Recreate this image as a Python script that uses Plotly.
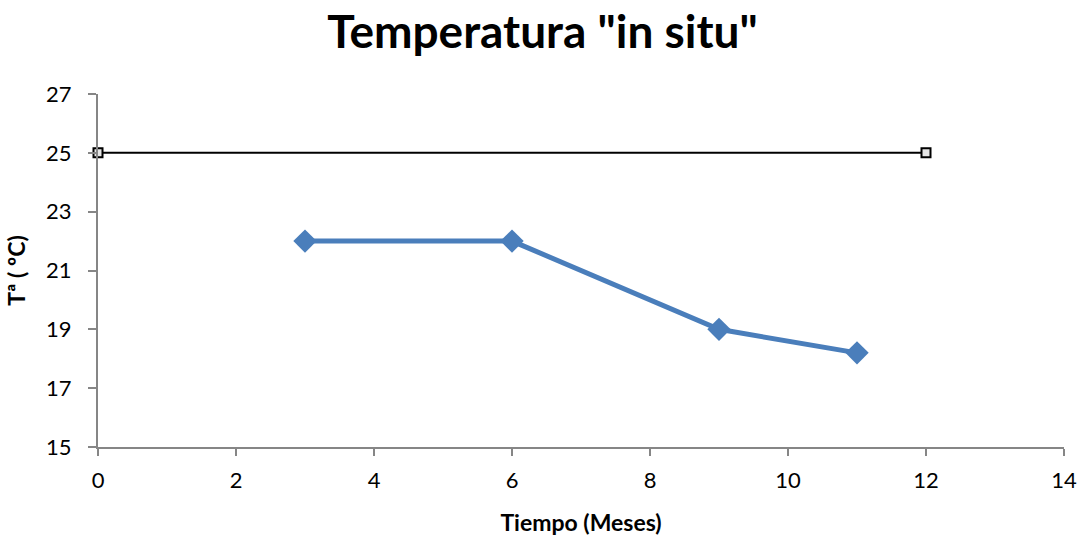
import plotly.graph_objects as go

ref_x = [0, 12]
ref_y = [25, 25]
meses = [3, 6, 9, 11]
temp = [22, 22, 19, 18.2]

title = 'Temperatura "in situ"'
x_title = "Tiempo (Meses)"
y_title = "Tª ( ºC)"

font = "Lato, 'Open Sans', sans-serif"

fig = go.Figure()
fig.add_trace(go.Scatter(
    x=ref_x, y=ref_y, mode="lines+markers",
    line=dict(color="black", width=2),
    marker=dict(symbol="square", size=9, color="#e6e6e6",
                line=dict(color="black", width=2)),
    showlegend=False, cliponaxis=False))
fig.add_trace(go.Scatter(
    x=meses, y=temp, mode="lines+markers",
    line=dict(color="#4a7ebb", width=5),
    marker=dict(symbol="diamond", size=18, color="#4a7ebb"),
    showlegend=False, cliponaxis=False))

axis_common = dict(showgrid=False, zeroline=False, showline=True,
                   linecolor="#868686", linewidth=2, ticks="outside",
                   tickcolor="#868686", tickwidth=2, automargin=False,
                   tickfont=dict(size=22, color="black", family=font))

fig.update_layout(
    width=1085, height=538,
    margin=dict(l=98, r=21, t=94, b=91),
    paper_bgcolor="white", plot_bgcolor="white",
    title=dict(text="<b>" + title + "</b>", x=0.5, xanchor="center",
               y=0.94, yanchor="middle",
               font=dict(size=46, color="black", family=font)),
    xaxis=dict(range=[0, 14], tick0=0, dtick=2, ticklen=7,
               ticklabelstandoff=6,
               title=dict(text="<b>" + x_title + "</b>", standoff=22,
                          font=dict(size=23, color="black", family=font)),
               **axis_common),
    yaxis=dict(range=[15, 27], tick0=15, dtick=2, ticklen=8,
               ticklabelstandoff=12,
               title=dict(text="<b>" + y_title + "</b>", standoff=14,
                          font=dict(size=23, color="black", family=font)),
               **axis_common),
)

fig.write_html("out.html")
